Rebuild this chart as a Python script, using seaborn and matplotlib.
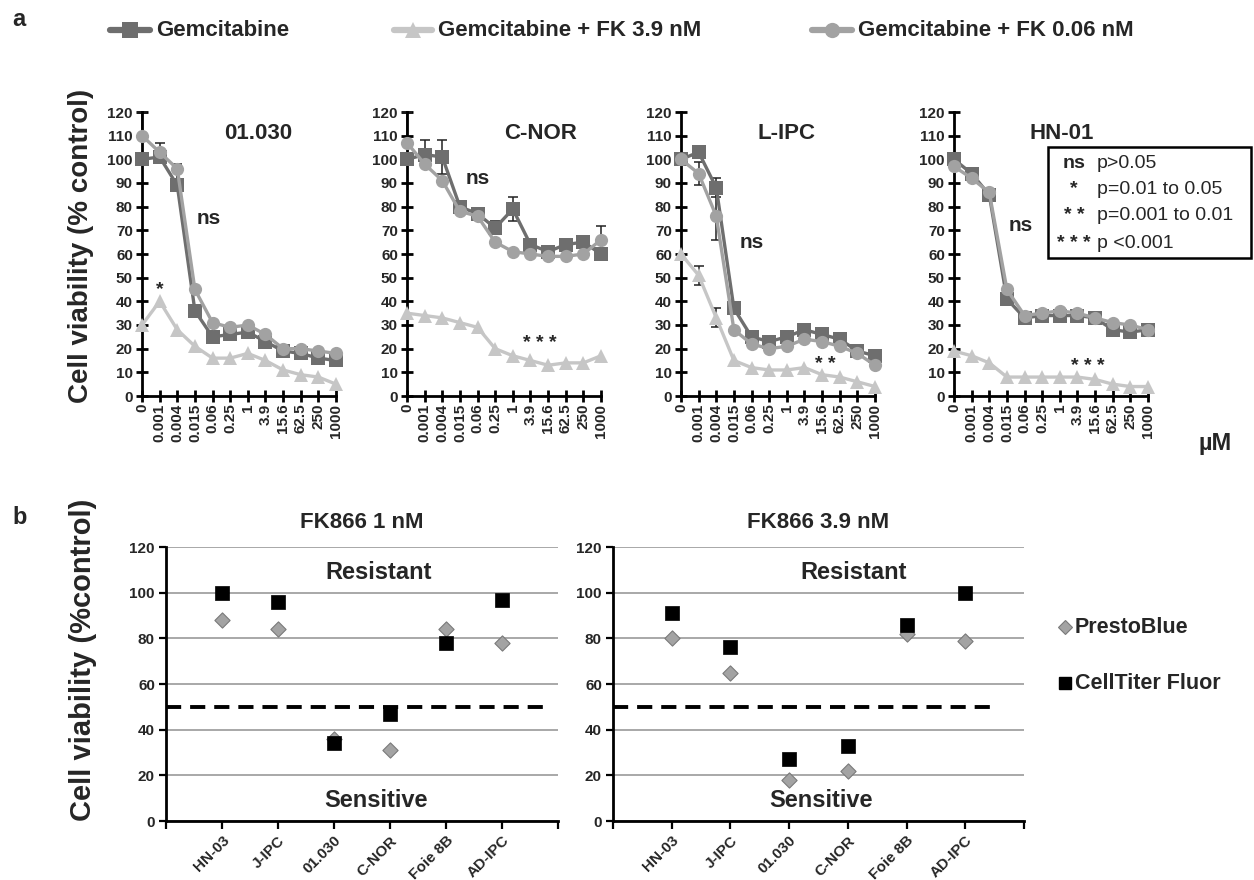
import numpy as np
import pandas as pd
import matplotlib
matplotlib.use("Agg")
import matplotlib.pyplot as plt
from matplotlib.lines import Line2D
from matplotlib.patches import Rectangle
import seaborn as sns

# ---------------- data: panel a ----------------
conc_labels = ["0", "0.001", "0.004", "0.015", "0.06", "0.25", "1", "3.9",
               "15.6", "62.5", "250", "1000"]
cell_lines = ["01.030", "C-NOR", "L-IPC", "HN-01"]
treatments = ["Gemcitabine", "Gemcitabine + FK 3.9 nM", "Gemcitabine + FK 0.06 nM"]

gem_01030 = [100, 101, 89, 36, 25, 26, 27, 23, 19, 18, 16, 15]
fk39_01030 = [30, 40, 28, 21, 16, 16, 18, 15, 11, 9, 8, 5]
fk006_01030 = [110, 103, 96, 45, 31, 29, 30, 26, 20, 20, 19, 18]

gem_cnor = [100, 102, 101, 80, 77, 71, 79, 64, 61, 64, 65, 60]
fk39_cnor = [35, 34, 33, 31, 29, 20, 17, 15, 13, 14, 14, 17]
fk006_cnor = [107, 98, 91, 78, 76, 65, 61, 60, 59, 59, 60, 66]

gem_lipc = [100, 103, 88, 37, 25, 23, 25, 28, 26, 24, 19, 17]
fk39_lipc = [60, 51, 33, 15, 12, 11, 11, 12, 9, 8, 6, 4]
fk006_lipc = [100, 94, 76, 28, 22, 20, 21, 24, 23, 21, 18, 13]

gem_hn01 = [100, 94, 85, 41, 33, 34, 34, 34, 33, 28, 27, 28]
fk39_hn01 = [19, 17, 14, 8, 8, 8, 8, 8, 7, 5, 4, 4]
fk006_hn01 = [97, 92, 86, 45, 34, 35, 36, 35, 33, 31, 30, 28]

# error bars: (cell line, treatment, concentration index, lower, upper)
error_bars = [
    ("01.030", "Gemcitabine + FK 0.06 nM", 0, 0, 10),
    ("01.030", "Gemcitabine + FK 0.06 nM", 1, 0, 4),
    ("01.030", "Gemcitabine", 2, 0, 9),
    ("C-NOR", "Gemcitabine + FK 0.06 nM", 0, 0, 13),
    ("C-NOR", "Gemcitabine", 1, 0, 6),
    ("C-NOR", "Gemcitabine", 2, 7, 7),
    ("C-NOR", "Gemcitabine", 5, 0, 3),
    ("C-NOR", "Gemcitabine", 6, 5, 5),
    ("C-NOR", "Gemcitabine + FK 0.06 nM", 11, 0, 6),
    ("L-IPC", "Gemcitabine + FK 0.06 nM", 1, 5, 5),
    ("L-IPC", "Gemcitabine", 2, 4, 4),
    ("L-IPC", "Gemcitabine + FK 0.06 nM", 2, 10, 10),
    ("L-IPC", "Gemcitabine + FK 3.9 nM", 1, 4, 4),
    ("L-IPC", "Gemcitabine + FK 3.9 nM", 2, 4, 4),
]

sig_ns = ["ns", "ns", "ns", "ns"]
sig_fk39 = ["*", "* * *", "* *", "* * *"]

# ---------------- data: panel b ----------------
b_lines = ["HN-03", "J-IPC", "01.030", "C-NOR", "Foie 8B", "AD-IPC"]
b_titles = ["FK866 1 nM", "FK866 3.9 nM"]
presto_1nM = [88, 84, 36, 31, 84, 78]
celltiter_1nM = [100, 96, 34, 47, 78, 97]
presto_39nM = [80, 65, 18, 22, 82, 79]
celltiter_39nM = [91, 76, 27, 33, 86, 100]
assays = ["PrestoBlue", "CellTiter Fluor"]

# ---------------- build tables ----------------
series_a = {
    "01.030": [gem_01030, fk39_01030, fk006_01030],
    "C-NOR": [gem_cnor, fk39_cnor, fk006_cnor],
    "L-IPC": [gem_lipc, fk39_lipc, fk006_lipc],
    "HN-01": [gem_hn01, fk39_hn01, fk006_hn01],
}
rows = []
for cl in cell_lines:
    for tr, vals in zip(treatments, series_a[cl]):
        for i, v in enumerate(vals):
            rows.append({"cell_line": cl, "treatment": tr, "pos": i,
                         "conc": conc_labels[i], "viability": v})
df_a = pd.DataFrame(rows)

series_b = {
    "FK866 1 nM": {"PrestoBlue": presto_1nM, "CellTiter Fluor": celltiter_1nM},
    "FK866 3.9 nM": {"PrestoBlue": presto_39nM, "CellTiter Fluor": celltiter_39nM},
}
rows = []
for t in b_titles:
    for a in assays:
        for i, v in enumerate(series_b[t][a]):
            rows.append({"panel": t, "assay": a, "pos": i + 1,
                         "line": b_lines[i], "value": v})
df_b = pd.DataFrame(rows)

# ---------------- style ----------------
sns.set_style("ticks")
plt.rcParams["font.family"] = ["Liberation Sans", "DejaVu Sans"]
plt.rcParams["font.weight"] = "bold"
plt.rcParams["axes.labelweight"] = "bold"

W, H = 1254, 880
fig = plt.figure(figsize=(W / 100, H / 100), dpi=100)


def fx(x):
    return x / W


def fy(y):
    return 1 - y / H


palette_a = {treatments[0]: "#6e6e6e", treatments[1]: "#c6c6c6",
             treatments[2]: "#a2a2a2"}
markers_a = {treatments[0]: "s", treatments[1]: "^", treatments[2]: "o"}

a_lefts = [142, 407, 681, 954]
a_title_x = [6.6, 7.6, 6.0, 6.1]
ns_pos = [(3.8, 75), (4.0, 92), (4.0, 65), (3.8, 72)]
star_pos = [(1.0, 45), (7.55, 22), (8.2, 13.5), (7.6, 12.5)]

for k, cl in enumerate(cell_lines):
    ax = fig.add_axes([fx(a_lefts[k]), fy(396), fx(194), 284 / H])
    sub = df_a[df_a["cell_line"] == cl]
    for (c, tr, idx, lo, hi) in error_bars:
        if c != cl:
            continue
        yv = series_a[cl][treatments.index(tr)][idx]
        ax.errorbar([idx], [yv], yerr=[[lo], [hi]], fmt="none", ecolor="#222222",
                    elinewidth=1.1, capsize=3.5, capthick=1.1, zorder=2,
                    clip_on=False)
    sns.lineplot(data=sub, x="pos", y="viability", hue="treatment",
                 style="treatment", hue_order=treatments, style_order=treatments,
                 palette=palette_a, markers=markers_a, dashes=False,
                 markersize=9.5, linewidth=2.4, markeredgewidth=0,
                 legend=False, ax=ax, clip_on=False, zorder=3)
    ax.set_xlim(0, 11)
    ax.set_ylim(0, 120)
    ax.set_xticks(range(len(conc_labels)))
    ax.set_xticklabels(conc_labels, rotation=90, fontsize=11, fontweight="bold")
    ax.set_yticks(range(0, 121, 10))
    ax.set_yticklabels([str(v) for v in range(0, 121, 10)], fontsize=11,
                       fontweight="bold")
    ax.tick_params(axis="both", direction="inout", length=9, width=2,
                   color="black")
    ax.tick_params(axis="x", pad=1)
    ax.tick_params(axis="y", pad=2)
    for s in ["top", "right"]:
        ax.spines[s].set_visible(False)
    for s in ["left", "bottom"]:
        ax.spines[s].set_linewidth(2)
        ax.spines[s].set_color("black")
    ax.set_xlabel("")
    ax.set_ylabel("")
    ax.text(a_title_x[k], 111, cl, ha="center", va="center", fontsize=16,
            fontweight="bold")
    ax.text(ns_pos[k][0], ns_pos[k][1], sig_ns[k], ha="center", va="center",
            fontsize=15, fontweight="bold")
    ax.text(star_pos[k][0], star_pos[k][1], sig_fk39[k], ha="center",
            va="center", fontsize=14, fontweight="bold")

fig.text(fx(81), fy(246), "Cell viability (% control)", rotation=90,
         ha="center", va="center", fontsize=20, fontweight="bold")
fig.text(fx(1198), fy(443), "\u00b5M", ha="left", va="center", fontsize=17,
         fontweight="bold")

# significance legend box
fig.add_artist(Rectangle((fx(1048), fy(258)), fx(1251 - 1048), (258 - 147) / H,
                         fill=False, edgecolor="black", linewidth=1.8,
                         transform=fig.transFigure))
sig_keys = ["ns", "*", "* *", "* * *"]
sig_desc = ["p>0.05", "p=0.01 to 0.05", "p=0.001 to 0.01", "p <0.001"]
sig_rows = [164, 189, 216, 243]
for key, desc, yy in zip(sig_keys, sig_desc, sig_rows):
    fig.text(fx(1074), fy(yy), key, ha="center", va="center", fontsize=14,
             fontweight="bold")
    fig.text(fx(1097), fy(yy), desc, ha="left", va="center", fontsize=14,
             fontweight="normal")

# top legend
leg_x = [(110, 150, 156), (394, 432, 438), (812, 852, 858)]
for (x0, x1, xt), tr in zip(leg_x, treatments):
    fig.add_artist(Line2D([fx(x0), fx((x0 + x1) / 2), fx(x1)],
                          [fy(30), fy(30), fy(30)], transform=fig.transFigure,
                          color=palette_a[tr], linewidth=4.5,
                          marker=markers_a[tr], markevery=[1], markersize=11,
                          markeredgewidth=0))
    fig.text(fx(xt), fy(30), tr, ha="left", va="center", fontsize=16,
             fontweight="bold")

fig.text(fx(12), fy(20), "a", ha="left", va="center", fontsize=17,
         fontweight="bold")
fig.text(fx(12), fy(517), "b", ha="left", va="center", fontsize=17,
         fontweight="bold")

# ---------------- panel b ----------------
b_rects = [(166, 392), (613, 411)]
dash_end = [6.75, 6.45]
res_x = [3.8, 4.1]
sen_x = [3.75, 3.55]
for k, t in enumerate(b_titles):
    left, width = b_rects[k]
    ax = fig.add_axes([fx(left), fy(821), fx(width), (821 - 547) / H])
    sub = df_b[df_b["panel"] == t]
    ax.set_axisbelow(True)
    ax.yaxis.grid(True, color="#a8a8a8", linewidth=1.4)
    ax.xaxis.grid(False)
    ax.hlines(50, 0, dash_end[k], colors="black", linewidth=2.8,
              linestyles=(0, (3.9, 2.3)), zorder=2)
    sns.scatterplot(data=sub[sub["assay"] == "PrestoBlue"], x="pos", y="value",
                    color="#a3a3a3", marker="D", s=60, edgecolor="#7a7a7a",
                    linewidth=0.8, legend=False, ax=ax, zorder=3)
    sns.scatterplot(data=sub[sub["assay"] == "CellTiter Fluor"], x="pos",
                    y="value", color="black", marker="s", s=100,
                    edgecolor="black", linewidth=0.5, legend=False, ax=ax,
                    zorder=4)
    ax.set_xlim(0, 7)
    ax.set_ylim(0, 120)
    ax.set_xticks(range(0, 8))
    ax.set_xticklabels([""] + b_lines + [""], rotation=45, ha="right",
                       rotation_mode="anchor", fontsize=11, fontweight="bold")
    ax.set_yticks(range(0, 121, 20))
    ax.set_yticklabels([str(v) for v in range(0, 121, 20)], fontsize=11,
                       fontweight="bold")
    ax.tick_params(axis="x", direction="out", length=6, width=1.6, pad=3,
                   color="black")
    ax.tick_params(axis="y", direction="out", length=5, width=1.6, pad=3,
                   color="black")
    for s in ["top", "right"]:
        ax.spines[s].set_visible(False)
    for s in ["left", "bottom"]:
        ax.spines[s].set_linewidth(2)
        ax.spines[s].set_color("black")
    ax.set_xlabel("")
    ax.set_ylabel("")
    ax.set_title(t, fontsize=16, fontweight="bold", pad=14)
    ax.text(res_x[k], 109, "Resistant", ha="center", va="center", fontsize=17,
            fontweight="bold")
    ax.text(sen_x[k], 9, "Sensitive", ha="center", va="center", fontsize=17,
            fontweight="bold")

fig.text(fx(83), fy(660), "Cell viability (%control)", rotation=90,
         ha="center", va="center", fontsize=21, fontweight="bold")

# panel b legend
fig.add_artist(Line2D([fx(1065)], [fy(627)], transform=fig.transFigure,
                      marker="D", markersize=7.5, linestyle="none",
                      markerfacecolor="#a3a3a3", markeredgecolor="#7a7a7a",
                      markeredgewidth=0.8))
fig.text(fx(1075), fy(627), "PrestoBlue", ha="left", va="center", fontsize=15.5,
         fontweight="bold")
fig.add_artist(Line2D([fx(1065)], [fy(683)], transform=fig.transFigure,
                      marker="s", markersize=8.5, linestyle="none",
                      markerfacecolor="black", markeredgecolor="black"))
fig.text(fx(1075), fy(683), "CellTiter Fluor", ha="left", va="center",
         fontsize=15.5, fontweight="bold")

fig.savefig("out.png", dpi=100)
